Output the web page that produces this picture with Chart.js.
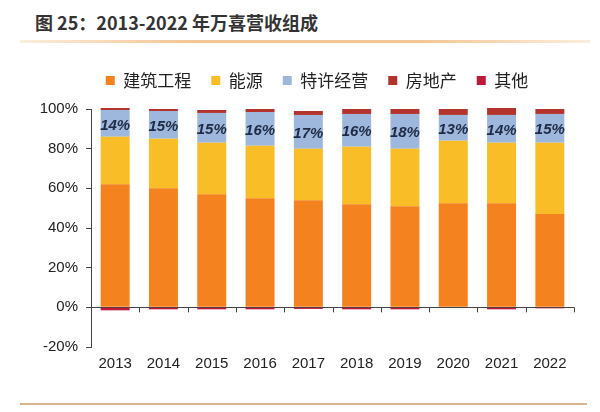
<!DOCTYPE html>
<html>
<head>
<meta charset="utf-8">
<script src="https://cdn.jsdelivr.net/npm/chart.js@4"></script>
<style>
  html, body { margin: 0; padding: 0; background: #fff; }
  #page { position: relative; width: 600px; height: 412px; overflow: hidden; }
  #title {
    position: absolute; left: 35px; top: 9px;
    font-family: "Noto Sans CJK SC", sans-serif; font-weight: bold;
    font-size: 18px; color: #333; white-space: nowrap;
  }
  #topLine {
    position: absolute; left: 20px; top: 40px; width: 570px; height: 3px;
    background: linear-gradient(to right, #fbeedd, #f3c594 30%, #f3c594 70%, #fbeedd);
  }
  #bottomLine {
    position: absolute; left: 20px; top: 403px; width: 567px; height: 2px;
    background: #d8b58e;
  }
  #wrap { position: absolute; left: 0; top: 50px; width: 600px; height: 331px; }
</style>
</head>
<body>
<div id="page">
  <div id="title">图 25：2013-2022 年万喜营收组成</div>
  <div id="topLine"></div>
  <div id="wrap"><canvas id="revChart"></canvas></div>
  <div id="bottomLine"></div>
</div>
<script>
// categories and series (share of revenue, %)
const years = ['2013', '2014', '2015', '2016', '2017', '2018', '2019', '2020', '2021', '2022'];
const construction = [62, 60, 57, 55, 54, 52, 51, 52.5, 52.5, 47];
const energy       = [24, 25, 26, 26.5, 26, 29, 29, 31.5, 30.5, 36];
const franchise    = [13.5, 14, 15, 17, 17, 16.5, 17.5, 13, 14, 14.5];
const realEstate   = [1, 1, 1.5, 1.5, 2, 2.5, 2.5, 3, 3.5, 2.5];
const other        = [-1.5, -1, -1, -1, -0.8, -1, -1, 0, -1, -0.5];
const franchiseLabels = [14, 15, 15, 16, 17, 16, 18, 13, 14, 15];
const yTicks = [100, 80, 60, 40, 20, 0, -20];

// extra room under the legend, and nudge it right a bit
const legendGapPlugin = {
    id: 'legendGap',
    beforeInit(chart) {
        const fit = chart.legend.fit;
        chart.legend.fit = function () {
            fit.bind(chart.legend)();
            this.height += 10;
        };
    },
    afterLayout(chart) {
        chart.legend.left += 12;
        chart.legend.right += 12;
    }
};

// draws the italic % labels inside the franchise segment
const franchiseLabelPlugin = {
    id: 'franchiseLabels',
    afterDatasetsDraw(chart) {
        const meta = chart.getDatasetMeta(2);
        const ctx = chart.ctx;
        ctx.save();
        ctx.font = 'italic bold 15px "Liberation Sans", Arial, sans-serif';
        ctx.fillStyle = '#1f2a44';
        ctx.textAlign = 'center';
        ctx.textBaseline = 'middle';
        meta.data.forEach((bar, i) => {
            const mid = (bar.y + bar.base) / 2 + 2;
            ctx.fillText(franchiseLabels[i] + '%', bar.x, mid);
        });
        ctx.restore();
    }
};

// small tick marks between categories on the 0% line
const zeroTickPlugin = {
    id: 'zeroTicks',
    afterDraw(chart) {
        const x = chart.scales.x;
        const y0 = chart.scales.y.getPixelForValue(0);
        const ctx = chart.ctx;
        const n = years.length;
        ctx.save();
        ctx.strokeStyle = '#444';
        ctx.lineWidth = 1;
        for (let i = 1; i <= n; i++) {
            const px = Math.round(x.left + (x.right - x.left) * i / n) + 0.5;
            ctx.beginPath();
            ctx.moveTo(px, y0);
            ctx.lineTo(px, y0 + 5);
            ctx.stroke();
        }
        ctx.restore();
    }
};

function series(label, data, color) {
    return {
        label: label,
        data: data,
        backgroundColor: color,
        borderWidth: 0,
        barPercentage: 0.6,
        categoryPercentage: 1.0,
        clip: false
    };
}

new Chart(document.getElementById('revChart'), {
    type: 'bar',
    data: {
        labels: years,
        datasets: [
            series('建筑工程', construction, '#f4821f'),
            series('能源', energy, '#f9bd27'),
            series('特许经营', franchise, '#9db8dc'),
            series('房地产', realEstate, '#b3342c'),
            series('其他', other, '#c0183a')
        ]
    },
    options: {
        responsive: true,
        maintainAspectRatio: false,
        animation: false,
        layout: { padding: { left: 36, right: 26, top: 2, bottom: 0 } },
        plugins: {
            legend: {
                position: 'top',
                labels: {
                    boxWidth: 9,
                    boxHeight: 9,
                    padding: 20,
                    color: '#222',
                    font: { size: 17, family: '"Noto Sans CJK SC", sans-serif' }
                }
            },
            tooltip: { enabled: false }
        },
        scales: {
            x: {
                stacked: true,
                grid: { display: false, drawTicks: false },
                border: { display: false },
                ticks: {
                    color: '#222',
                    padding: 8,
                    font: { size: 15, family: '"Liberation Sans", Arial, sans-serif' }
                }
            },
            y: {
                stacked: true,
                min: -20,
                max: 100,
                afterFit(scale) { scale.width = 55; },
                afterBuildTicks(scale) { scale.ticks = yTicks.map(v => ({ value: v })); },
                border: { display: true, color: '#444', width: 1 },
                grid: {
                    color: ctx => (ctx.tick && ctx.tick.value === 0) ? '#444' : 'rgba(0,0,0,0)',
                    tickColor: '#444',
                    tickLength: 5
                },
                ticks: {
                    color: '#222',
                    padding: 8,
                    font: { size: 15, family: '"Liberation Sans", Arial, sans-serif' },
                    callback: v => v + '%'
                }
            }
        }
    },
    plugins: [legendGapPlugin, franchiseLabelPlugin, zeroTickPlugin]
});
</script>
</body>
</html>
